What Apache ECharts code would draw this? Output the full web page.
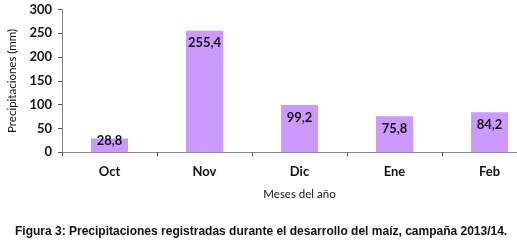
<!DOCTYPE html>
<html><head><meta charset="utf-8">
<script src="https://cdn.jsdelivr.net/npm/echarts@6/dist/echarts.min.js"></script>
<style>html,body{margin:0;padding:0;background:#fff}#c{width:517px;height:241px}</style>
</head><body><div id="c"></div>
<script>
const categories = ['Oct', 'Nov', 'Dic', 'Ene', 'Feb'];
const precipitaciones = [28.8, 255.4, 99.2, 75.8, 84.2];
const yTicks = [0, 50, 100, 150, 200, 250, 300];
const yAxisName = 'Precipitaciones (mm)';
const xAxisName = 'Meses del año';
const caption = 'Figura 3: Precipitaciones registradas durante el desarrollo del maíz, campaña 2013/14.';

const chart = echarts.init(document.getElementById('c'), null, {renderer: 'canvas'});
const lab = {fontFamily: 'Lato', fontWeight: 'bold', fontSize: 13, color: '#111'};
chart.setOption({
  animation: false,
  grid: {left: 62, width: 475, top: 9.5, bottom: 88.7, outerBoundsMode: 'none', containLabel: false},
  title: {
    text: caption, left: 15, top: 226, padding: 0,
    textStyle: {fontFamily: 'Liberation Sans', fontWeight: 'bold', fontSize: 12, color: '#111'}
  },
  xAxis: {
    type: 'category', data: categories,
    axisLine: {lineStyle: {color: '#888', width: 1}},
    axisTick: {show: true, length: 4, lineStyle: {color: '#555'}},
    axisLabel: Object.assign({margin: 13}, lab),
    name: xAxisName, nameLocation: 'middle', nameGap: 36,
    nameTextStyle: {fontFamily: 'Lato', fontSize: 11.5, color: '#111'}
  },
  yAxis: {
    type: 'value', min: yTicks[0], max: yTicks[yTicks.length - 1], interval: 50,
    splitLine: {show: false},
    axisLine: {show: true, lineStyle: {color: '#888', width: 1}},
    axisTick: {show: true, length: 4, lineStyle: {color: '#555'}},
    axisLabel: Object.assign({margin: 10}, lab),
    name: yAxisName, nameLocation: 'middle', nameGap: 40,
    nameTextStyle: {fontFamily: 'Lato', fontSize: 11.5, color: '#111'}
  },
  series: [{
    type: 'bar', barWidth: 37,
    data: precipitaciones.map((v, i) => ({
      value: v,
      label: i === 0 ? {position: 'insideTop', distance: -4} : undefined
    })),
    itemStyle: {color: '#CC99FF'},
    label: {
      show: true, position: 'insideTop', distance: 6,
      formatter: p => String(p.value).replace('.', ','),
      fontFamily: 'Lato', fontWeight: 'bold', fontSize: 13, color: '#111'
    }
  }]
});
</script></body></html>
